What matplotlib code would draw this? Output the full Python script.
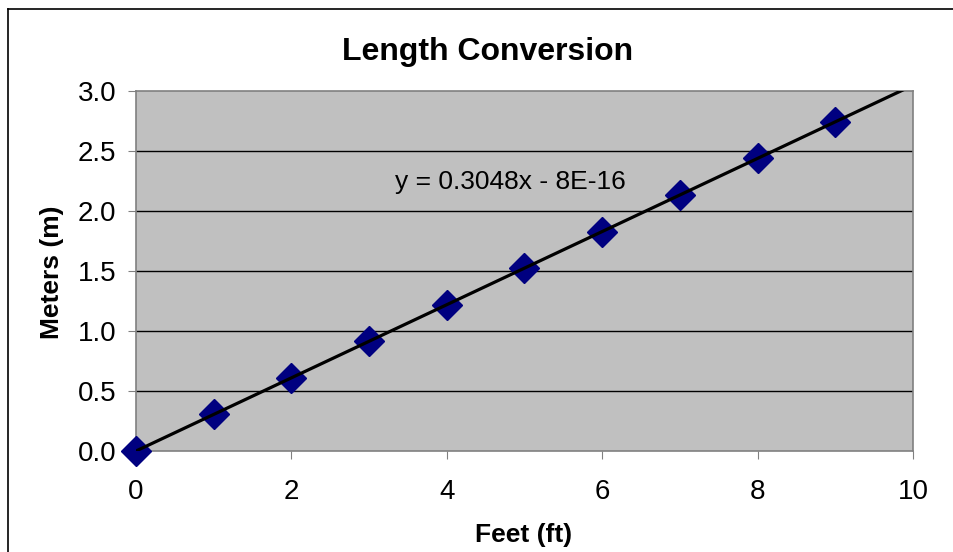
import matplotlib.pyplot as plt
from matplotlib.lines import Line2D

plt.rcParams['font.family'] = ['Liberation Sans', 'DejaVu Sans']

# data
feet = [0, 1, 2, 3, 4, 5, 6, 7, 8, 9]
meters = [0.0, 0.3048, 0.6096, 0.9144, 1.2192, 1.524, 1.8288, 2.1336, 2.4384, 2.7432]
slope = 0.3048
trend_x = [0, 10]
x_ticks = [0, 2, 4, 6, 8, 10]
y_ticks = [0.0, 0.5, 1.0, 1.5, 2.0, 2.5, 3.0]

W, H = 954, 552
fig = plt.figure(figsize=(W / 100, H / 100), dpi=100)
ax = fig.add_axes([136/W, 1 - 451/H, (913-136)/W, (451-91)/H])
ax.set_facecolor('#C0C0C0')

# outer chart frame (only top and left edges are inside the picture)
fig.add_artist(Line2D([8/W, 8/W], [0, 1 - 9/H], color='black', linewidth=1.2))
fig.add_artist(Line2D([8/W, 1], [1 - 9/H, 1 - 9/H], color='black', linewidth=1.2))

for yv in y_ticks[1:-1]:
    ax.axhline(yv, color='black', linewidth=1, zorder=1)

ax.plot(feet, meters, linestyle='none', marker='D', markersize=15.5,
        markerfacecolor='#000080', markeredgecolor='#000080', zorder=3, clip_on=False)
ax.plot(trend_x, [slope * v for v in trend_x], color='black', linewidth=2.3, zorder=4)

ax.text(3.33, 2.24, 'y = 0.3048x - 8E-16', fontsize=19, va='center', ha='left')

ax.set_xlim(0, 10)
ax.set_ylim(0, 3)
ax.set_xticks(x_ticks)
ax.set_yticks(y_ticks)
ax.set_yticklabels([f'{v:.1f}' for v in y_ticks])
ax.tick_params(labelsize=20, direction='out', length=6, colors='#808080', labelcolor='black')
ax.tick_params(axis='y', pad=8)
ax.tick_params(axis='x', pad=14)

for s in ax.spines.values():
    s.set_color('#808080')
    s.set_linewidth(1.2)

fig.text(488/W, 1 - 52/H, 'Length Conversion', fontsize=23, fontweight='bold',
         ha='center', va='center')
fig.text(524/W, 1 - 535/H, 'Feet (ft)', fontsize=19, fontweight='bold',
         ha='center', va='center')
fig.text(52/W, 1 - 272/H, 'Meters (m)', fontsize=19, fontweight='bold',
         ha='center', va='center', rotation=90)

fig.savefig('out.png', dpi=100)
